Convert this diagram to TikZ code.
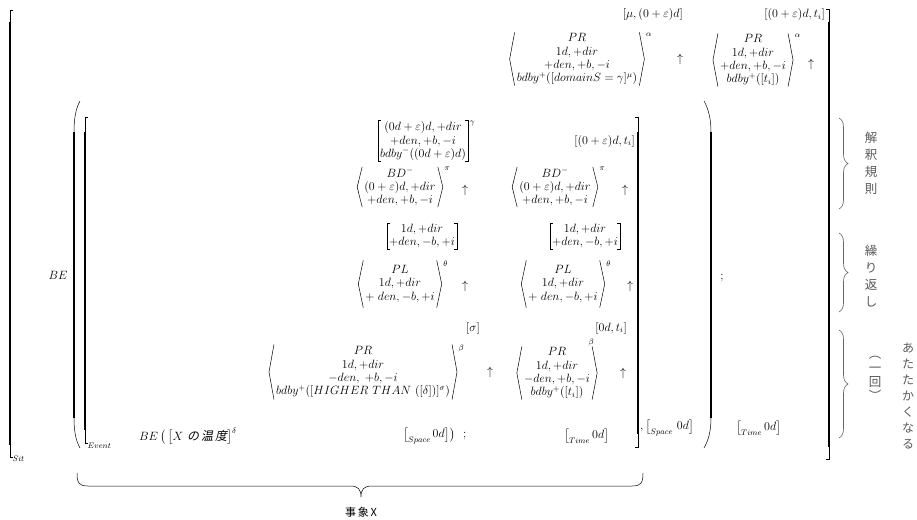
\documentclass[tikz,border=0pt]{standalone}
\usepackage{amsmath}
\usepackage{fontspec}
\newfontfamily\cjk{Noto Sans CJK JP}
\newfontfamily\cjkit{Noto Sans CJK JP}[FakeSlant=0.2]
\usetikzlibrary{positioning,calc,decorations.pathreplacing}

% angle brackets and square brackets drawn round a node
\newcommand\angled[1]{%
  \draw[brk] ([xshift=5pt]#1.north west) -- (#1.west) -- ([xshift=5pt]#1.south west);
  \draw[brk] ([xshift=-5pt]#1.north east) -- (#1.east) -- ([xshift=-5pt]#1.south east);}
\newcommand\squared[1]{%
  \draw[brk] ([xshift=3pt]#1.north west) -- (#1.north west) -- (#1.south west) -- ([xshift=3pt]#1.south west);
  \draw[brk] ([xshift=-3pt]#1.north east) -- (#1.north east) -- (#1.south east) -- ([xshift=-3pt]#1.south east);}

\begin{document}
\begin{tikzpicture}[x=1pt,y=-1pt,font=\fontsize{12}{13.2}\selectfont]
  \tikzset{
    feat/.style={align=center,inner xsep=7pt,inner ysep=1pt},
    mat/.style={align=center,inner xsep=2pt,inner ysep=1pt},
    txt/.style={inner sep=1pt},
    sup/.style={inner sep=0.5pt,font=\fontsize{8.5}{9}\selectfont},
    brk/.style={line width=0.5pt},
    fat/.style={line width=2pt},
    mid/.style={line width=1.4pt},
    gbrace/.style={draw=black!60,line width=0.6pt,decorate,decoration={brace,amplitude=9pt}},
    vlab/.style={align=center,text=black!65,inner sep=0pt,font=\cjk\fontsize{12.5}{17}\selectfont}
  }
  \useasboundingbox (0,0) rectangle (917,519);

  % outer Sit bracket
  \draw[brk] (13,10) -- (10,10) -- (10,457) -- (13,457);
  \draw[fat] (10,22) -- (10,445);
  \node[sup,anchor=west] (sit) at (12,459) {$Sit$};
  \draw[brk] (826,9) -- (829,9) -- (829,459) -- (826,459);
  \draw[fat] (829,22) -- (829,447);

  % top row
  \node[txt,anchor=east] (t1) at (684,15) {$[\mu,(0+\varepsilon)d]$};
  \node[txt,anchor=east] (t2) at (826,15) {$[(0+\varepsilon)d,t_i]$};
  \node[feat] (a1) at (577,59) {$PR$\\$1d,+dir$\\$+den,+b,-i$\\$bdby^{+}([domainS=\gamma]^{\mu})$};
  \angled{a1}
  \node[sup,anchor=north west] (a1s) at ([xshift=1pt]a1.north east) {$\alpha$};
  \node[txt] (a1u) at (680,60) {$\uparrow$};
  \node[feat] (a2) at (753,60) {$PR$\\$1d,+dir$\\$+den,+b,-i$\\$bdby^{+}([t_i])$};
  \angled{a2}
  \node[sup,anchor=north west] (a2s) at ([xshift=1pt]a2.north east) {$\alpha$};
  \node[txt] (a2u) at (811,64) {$\uparrow$};

  % BE ( ... )
  \node[txt] (be) at (58,275) {$BE$};
  \draw[brk] (80,101) .. controls (76,108) and (74,118) .. (74,132);
  \draw[mid] (74,132) -- (74,418);
  \draw[brk] (74,418) .. controls (74,432) and (76,441) .. (80,448);
  \draw[brk] (704,101) .. controls (708,108) and (711,118) .. (711,132);
  \draw[mid] (711,132) -- (711,418);
  \draw[brk] (711,418) .. controls (711,432) and (708,441) .. (704,448);

  % Event bracket
  \draw[brk] (88,117) -- (85,117) -- (85,443) -- (88,443);
  \draw[fat] (85,132) -- (85,430);
  \node[sup,anchor=west] (event) at (87,446) {$Event$};
  \draw[brk] (635,117) -- (638,117) -- (638,447) -- (635,447);
  \draw[fat] (638,132) -- (638,434);

  % interpretation rule
  \node[mat] (g1) at (423,141) {$(0d+\varepsilon)d,+dir$\\$+den,+b,-i$\\$bdby^{-}((0d+\varepsilon)d)$};
  \squared{g1}
  \node[sup,anchor=north west] (g1s) at ([xshift=1pt]g1.north east) {$\gamma$};
  \node[txt,anchor=east] (f1) at (636,141) {$[(0+\varepsilon)d,t_i]$};
  \node[feat] (bd1) at (400,187) {$BD^{-}$\\$(0+\varepsilon)d,+dir$\\$+den,+b,-i$};
  \angled{bd1}
  \node[sup,anchor=north west] (bd1s) at ([xshift=1pt]bd1.north east) {$\pi$};
  \node[txt] (bd1u) at (465,190) {$\uparrow$};
  \node[feat] (bd2) at (555,187) {$BD^{-}$\\$(0+\varepsilon)d,+dir$\\$+den,+b,-i$};
  \angled{bd2}
  \node[sup,anchor=north west] (bd2s) at ([xshift=1pt]bd2.north east) {$\pi$};
  \node[txt] (bd2u) at (625,190) {$\uparrow$};

  % repetition
  \node[mat] (s1) at (422,236) {$1d,+dir$\\$+den,-b,+i$};
  \squared{s1}
  \node[mat] (s2) at (585,236) {$1d,+dir$\\$+den,-b,+i$};
  \squared{s2}
  \node[feat,inner ysep=5pt] (pl1) at (400,284) {$PL$\\$1d,+dir$\\$+\;den,-b,+i$};
  \angled{pl1}
  \node[sup,anchor=north west] (pl1s) at ([xshift=1pt]pl1.north east) {$\theta$};
  \node[txt] (pl1u) at (465,286) {$\uparrow$};
  \node[feat,inner ysep=5pt] (pl2) at (563,284) {$PL$\\$1d,+dir$\\$+\;den,-b,+i$};
  \angled{pl2}
  \node[sup,anchor=north west] (pl2s) at ([xshift=1pt]pl2.north east) {$\theta$};
  \node[txt] (pl2u) at (630,286) {$\uparrow$};

  % once
  \node[txt,anchor=east] (sg) at (481,328) {$[\sigma]$};
  \node[txt,anchor=east] (z0) at (628,328) {$[0d,t_i]$};
  \node[feat,inner ysep=2pt] (pr1) at (363,372) {$PR$\\$1d,+dir$\\$-den,\;+b,-i$\\$bdby^{+}([HIGHER\ THAN\ ([\delta])]^{\sigma})$};
  \angled{pr1}
  \node[sup,anchor=north west] (pr1s) at ([xshift=1pt]pr1.north east) {$\beta$};
  \node[txt] (pr1u) at (490,372) {$\uparrow$};
  \node[feat] (pr2) at (557,373) {$PR$\\$1d,+dir$\\$-den,+b,-i$\\$bdby^{+}([t_i])$};
  \angled{pr2}
  \node[sup,anchor=south] (pr2s) at ([xshift=-6pt]pr2.north east) {$\beta$};
  \node[txt] (pr2u) at (623,373) {$\uparrow$};

  % bottom lines
  \node[txt,anchor=west] (be1) at (138,436) {$BE\,\big(\,\big[X$~{\cjkit の\,温\,度}$\big]^{\delta}$};
  \node[txt,anchor=west] (sp1) at (402,436) {$\big[_{Space}\,0d\big]\big)$\ \ ;};
  \node[txt,anchor=west] (tm1) at (563,436) {$\big[_{Time}\,0d\big]$};
  \node[txt,anchor=west] (sp2) at (639,428) {$,\big[_{Space}\ 0d\big]$};
  \node[txt] (semi) at (722,278) {;};
  \node[txt,anchor=west] (tm2) at (735,428) {$\big[_{Time}\,0d\big]$};

  % event X brace
  \draw[brk] (77,473) .. controls (77,483) and (79,486) .. (88,486) -- (350,486)
    .. controls (358,486) and (361,489) .. (361,497)
    .. controls (361,489) and (364,486) .. (372,486) -- (632,486)
    .. controls (641,486) and (643,483) .. (643,473);
  \node[txt,font=\cjk\fontsize{11}{12}\selectfont] (jisho) at (361,512) {事\,象\,X};

  % labels on the right
  \draw[gbrace] (839,118) -- (839,209);
  \node[vlab] (kaishaku) at (871,163) {解\\釈\\規\\則};
  \draw[gbrace] (839,233) -- (839,312);
  \node[vlab] (kurikaeshi) at (871,276) {繰\\り\\返\\し};
  \draw[gbrace] (839,330) -- (839,438);
  \node[vlab,font=\cjk\fontsize{12.5}{14}\selectfont] (ikkai) at (875,378) {︵\\一\\回\\︶};
  \node[vlab,font=\cjk\fontsize{12}{16}\selectfont] (atatakaku) at (908,396) {あ\\た\\た\\か\\く\\な\\る};
\end{tikzpicture}
\end{document}
